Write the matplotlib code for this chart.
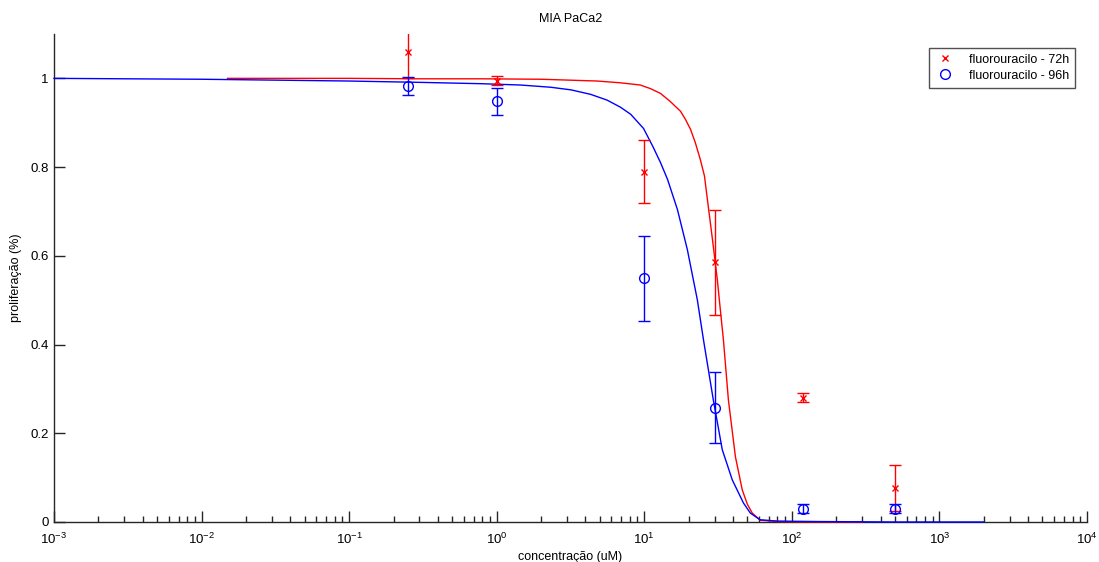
import matplotlib.pyplot as plt

plt.rcParams['font.family'] = ['Liberation Sans', 'DejaVu Sans']
plt.rcParams['mathtext.default'] = 'regular'
plt.rcParams['axes.unicode_minus'] = False

# measured points (concentration in uM)
conc = [0.25, 1, 10, 30, 120, 500]
prolif_72h = [1.06, 0.995, 0.79, 0.585, 0.28, 0.077]
err_72h = [0.06, 0.01, 0.07, 0.118, 0.01, 0.052]
prolif_96h = [0.982, 0.948, 0.549, 0.257, 0.03, 0.03]
err_96h = [0.02, 0.03, 0.095, 0.08, 0.01, 0.01]

# fitted curves
fit_x_72h = [0.015, 0.1, 0.3, 0.78, 2, 4.8, 6.9, 9.4, 11.0, 12.9, 15.0, 17.6,
             19.0, 20.6, 22.2, 24, 25.6, 26.8, 29, 31.3, 32.3, 34.4, 37.2,
             41.5, 46.2, 50, 54, 61, 80, 150, 300]
fit_y_72h = [1.0, 1.0, 0.999, 0.999, 0.998, 0.994, 0.99, 0.985, 0.977, 0.966,
             0.948, 0.926, 0.908, 0.885, 0.855, 0.817, 0.78, 0.727, 0.637,
             0.546, 0.50, 0.411, 0.275, 0.147, 0.072, 0.040, 0.020, 0.004,
             0.001, 0.0, 0.0]
fit_x_96h = [0.001, 0.01, 0.1, 0.3, 0.78, 1.45, 2.32, 3.2, 4.33, 5.6, 6.9,
             8.1, 9.9, 11.5, 12.9, 14.4, 16.8, 19.6, 22.9, 25.2, 29.4, 33.8,
             39.5, 47, 52.4, 61, 80, 150, 500, 2000]
fit_y_96h = [1.0, 0.998, 0.994, 0.991, 0.988, 0.985, 0.980, 0.974, 0.964,
             0.951, 0.935, 0.919, 0.887, 0.845, 0.81, 0.772, 0.704, 0.614,
             0.501, 0.411, 0.275, 0.163, 0.095, 0.043, 0.02, 0.005, 0.002,
             0.001, 0.0, 0.0]

fig = plt.figure(figsize=(10.99, 5.62), dpi=100)
ax = fig.add_axes([0.0491, 0.0712, 0.9399, 0.8683])

ax.plot(fit_x_72h, fit_y_72h, color='red', lw=1, zorder=3, clip_on=False)
ax.plot(fit_x_96h, fit_y_96h, color='blue', lw=1, zorder=3, clip_on=False)

ax.errorbar(conc, prolif_72h, yerr=err_72h, fmt='none', ecolor='red',
            elinewidth=1, capsize=4.5, capthick=1, zorder=4)
ax.errorbar(conc, prolif_96h, yerr=err_96h, fmt='none', ecolor='blue',
            elinewidth=1, capsize=4.5, capthick=1, zorder=4)
ax.plot(conc, prolif_72h, 'x', color='red', ms=4, mew=1, zorder=5,
        label='fluorouracilo - 72h')
ax.plot(conc, prolif_96h, 'o', color='blue', mfc='none', ms=7, mew=1,
        zorder=5, label='fluorouracilo - 96h')

ax.set_xscale('log')
ax.set_xlim(1e-3, 1e4)
ax.set_ylim(0, 1.1)
ax.set_yticks([0, 0.2, 0.4, 0.6, 0.8, 1])
ax.set_yticklabels(['0', '0.2', '0.4', '0.6', '0.8', '1'])
ax.set_xticks([10.0 ** k for k in range(-3, 5)])

for s in ['top', 'right']:
    ax.spines[s].set_visible(False)
for s in ['left', 'bottom']:
    ax.spines[s].set_color('#262626')
    ax.spines[s].set_linewidth(1)

ax.tick_params(axis='both', which='major', direction='in', length=8,
               width=1, labelsize=9.5, color='#262626')
ax.tick_params(axis='x', which='major', pad=7)
ax.tick_params(axis='y', which='major', pad=4)
ax.tick_params(axis='x', which='minor', direction='in', length=4.5,
               width=1, color='#262626')
ax.tick_params(axis='y', which='minor', left=False)

ax.set_title('MIA PaCa2', fontsize=9, pad=9)
ax.set_xlabel('concentração (uM)', fontsize=9, labelpad=3)
ax.set_ylabel('proliferação (%)', fontsize=9, labelpad=6)

leg = ax.legend(loc='upper right', bbox_to_anchor=(0.995, 0.985), fontsize=9,
                frameon=True, fancybox=False, handlelength=1.5,
                borderpad=0.5, labelspacing=0.3, handletextpad=1.2)
leg.get_frame().set_edgecolor('#262626')
leg.get_frame().set_linewidth(1)

fig.savefig('out.png', dpi=100)
